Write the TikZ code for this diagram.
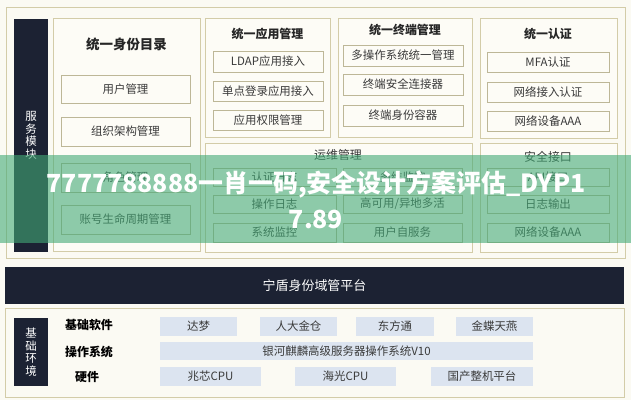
\documentclass[tikz,border=0pt]{standalone}
\usepackage{fontspec}
\setmainfont{Noto Sans CJK SC}
\definecolor{navy}{HTML}{1C2233}
\definecolor{panelbd}{HTML}{D3CCA8}
\definecolor{boxbd}{HTML}{BDB797}
\definecolor{bgc}{HTML}{FBFAF3}
\definecolor{panelbg}{HTML}{FDFCF6}
\definecolor{lblue}{HTML}{DCE4F0}
\definecolor{txt}{HTML}{3A3A3A}
\definecolor{wm}{RGB}{67,170,118}
\begin{document}
\begin{tikzpicture}[x=1bp,y=-1bp,
  sz/.style 2 args={minimum width=#1bp, minimum height=#2bp},
  panel/.style={draw=panelbd, fill=panelbg, line width=0.9bp, anchor=north west, inner sep=0pt, outer sep=0pt},
  item/.style={draw=boxbd, fill=panelbg, line width=0.7bp, anchor=north west, inner sep=0pt, outer sep=0pt, text=txt, font=\fontsize{11.5}{13}\selectfont},
  bluebox/.style={fill=lblue, anchor=north west, inner sep=0pt, outer sep=0pt, text=txt, font=\fontsize{11.5}{13}\selectfont},
  darkbar/.style={fill=navy, anchor=north west, inner sep=0pt, outer sep=0pt},
  vtext/.style={text=white, align=center, font=\fontsize{11.5}{12.6}\selectfont},
  ttl/.style={text=black!85, font=\fontsize{12}{14}\selectfont\bfseries},
  ttlr/.style={text=black!80, font=\fontsize{12}{14}\selectfont},
  lbl/.style={text=black, font=\fontsize{12}{14}\selectfont\bfseries},
  wmtext/.style={text=white, font=\fontsize{25}{30}\selectfont\bfseries}
]
\useasboundingbox (0,0) rectangle (631,400);
\fill[bgc] (0,0) rectangle (631,400);

% top outer panel
\node[panel, fill=bgc, sz={619}{251}] (outer) at (6,7) {};
\node[darkbar, sz={34}{233}] (svc) at (14,19) {};
\node[vtext] (svct) at (svc.center) {服\\务\\模\\块};

% panel 1
\node[panel, sz={147}{233}] (p1) at (53,18) {};
\node[ttl, font=\fontsize{13.5}{15}\selectfont\bfseries] (p1t) at (126.5,44) {统一身份目录};
\node[item, sz={129}{28}] (p1a) at (61,75) {用户管理};
\node[item, sz={129}{29}] (p1b) at (61,117) {组织架构管理};
\node[item, sz={129}{29}] (p1c) at (61,163) {角色管理};
\node[item, sz={129}{29}] (p1d) at (61,205) {账号生命周期管理};

% panel 2
\node[panel, sz={125}{119}] (p2) at (205,18) {};
\node[ttl] (p2t) at (267.5,34) {统一应用管理};
\node[item, sz={110}{21}] (p2a) at (213,51) {LDAP应用接入};
\node[item, sz={110}{20}] (p2b) at (213,81) {单点登录应用接入};
\node[item, sz={110}{20}] (p2c) at (213,110) {应用权限管理};

% panel 3
\node[panel, sz={134}{119}] (p3) at (338,18) {};
\node[ttl] (p3t) at (405,30) {统一终端管理};
\node[item, sz={120}{21}] (p3a) at (343,45) {多操作系统统一管理};
\node[item, sz={120}{21}] (p3b) at (343,74) {终端安全连接器};
\node[item, sz={120}{21}] (p3c) at (343,105) {终端身份容器};

% panel 4
\node[panel, sz={137}{120}] (p4) at (480,18) {};
\node[ttl] (p4t) at (548,34) {统一认证};
\node[item, sz={122}{20}] (p4a) at (487,52) {MFA认证};
\node[item, sz={122}{20}] (p4b) at (487,82) {网络接入认证};
\node[item, sz={122}{20}] (p4c) at (487,111) {网络设备AAA};

% panel 5
\node[panel, sz={267}{109}] (p5) at (205,143) {};
\node[ttlr] (p5t) at (338,155) {运维管理};
\node[item, sz={123}{18}] (p5a) at (213,168) {认证日志};
\node[item, sz={123}{18}] (p5b) at (213,195) {操作日志};
\node[item, sz={123}{19}] (p5c) at (213,223) {系统监控};
\node[item, sz={119}{18}] (p5d) at (343,168) {多维监控};
\node[item, sz={119}{18}] (p5e) at (343,195) {高可用/异地多活};
\node[item, sz={119}{19}] (p5f) at (343,223) {用户自服务};

% panel 6
\node[panel, sz={137}{109}] (p6) at (480,143) {};
\node[ttlr] (p6t) at (548,157) {安全接口};
\node[item, sz={122}{18}] (p6a) at (487,168) {API接口};
\node[item, sz={122}{18}] (p6b) at (487,195) {日志输出};
\node[item, sz={122}{19}] (p6c) at (487,223) {网络设备AAA};

% platform band
\node[darkbar, sz={619}{37}] (band) at (5,267) {};
\node[text=white, font=\fontsize{13}{15}\selectfont] (bandt) at (band.center) {宁盾身份域管平台};

% bottom panel
\node[panel, fill=bgc, sz={619}{89}] (bot) at (5,308) {};
\node[darkbar, sz={34}{68}] (env) at (14,318) {};
\node[vtext] (envt) at (env.center) {基\\础\\环\\境};
\node[lbl] (l1) at (89,325) {基础软件};
\node[lbl] (l2) at (89,352) {操作系统};
\node[lbl] (l3) at (87,377) {硬件};

\node[bluebox, sz={77}{19}] (b1) at (160,317) {达梦};
\node[bluebox, sz={77}{19}] (b2) at (260,317) {人大金仓};
\node[bluebox, sz={78}{19}] (b3) at (356,317) {东方通};
\node[bluebox, sz={77}{19}] (b4) at (456,317) {金蝶天燕};
\node[bluebox, sz={373}{18}] (b5) at (160,342) {银河麒麟高级服务器操作系统V10};
\node[bluebox, sz={101}{19}] (b6) at (160,367) {兆芯CPU};
\node[bluebox, sz={101}{19}] (b7) at (295,367) {海光CPU};
\node[bluebox, sz={102}{19}] (b8) at (431,367) {国产整机平台};

% watermark overlay
\fill[wm, fill opacity=0.6] (0,155) rectangle (631,243);
\node[wmtext] (wm1) at (316,184) {7777788888一肖一码,安全设计方案评估\_DYP1};
\node[wmtext] (wm2) at (316,219) {7.89};
\end{tikzpicture}
\end{document}
